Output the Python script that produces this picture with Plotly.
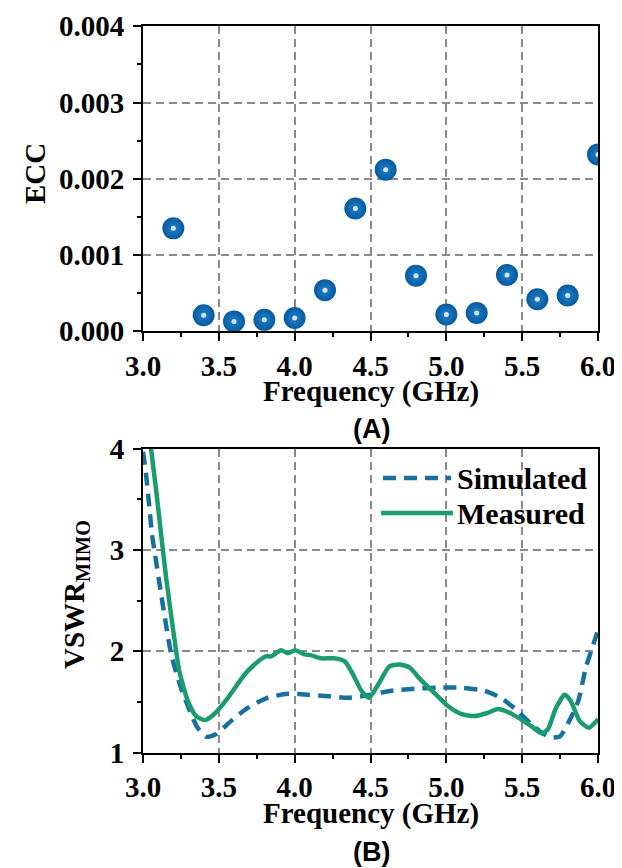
import plotly.graph_objects as go

# ---------------- data ----------------
ecc_freq = [3.2, 3.4, 3.6, 3.8, 4.0, 4.2, 4.4, 4.6, 4.8, 5.0, 5.2, 5.4, 5.6, 5.8, 6.0]
ecc_vals = [0.00135, 0.00021, 0.00013, 0.00015, 0.000175, 0.00054, 0.00161, 0.00212,
            0.00073, 0.00022, 0.00024, 0.00074, 0.00042, 0.00047, 0.00232]

sim_freq = [3.0, 3.02, 3.04, 3.06, 3.08, 3.12, 3.186, 3.25, 3.317, 3.36, 3.42, 3.48, 3.58,
            3.69, 3.82, 3.955, 4.087, 4.22, 4.35, 4.5, 4.636, 4.79, 4.94, 5.1, 5.25, 5.36,
            5.47, 5.56, 5.625, 5.69, 5.75, 5.81, 5.87, 5.92, 5.97, 6.0]
sim_vswr = [3.97, 3.75, 3.45, 3.15, 2.95, 2.56, 1.97, 1.64, 1.38, 1.245, 1.155, 1.18, 1.31,
            1.44, 1.54, 1.58, 1.57, 1.556, 1.54, 1.57, 1.61, 1.63, 1.64, 1.64, 1.61, 1.54,
            1.41, 1.28, 1.2, 1.15, 1.16, 1.31, 1.51, 1.84, 2.07, 2.21]

meas_freq = [3.04, 3.053, 3.09, 3.115, 3.153, 3.197, 3.24, 3.296, 3.35, 3.41, 3.47, 3.56,
             3.67, 3.735, 3.81, 3.845, 3.91, 3.955, 4.003, 4.065, 4.11, 4.175, 4.26, 4.33,
             4.385, 4.44, 4.49, 4.55, 4.625, 4.69, 4.757, 4.83, 4.92, 5.01, 5.1, 5.185,
             5.27, 5.34, 5.405, 5.49, 5.56, 5.63, 5.67, 5.72, 5.78, 5.82, 5.88, 5.94, 5.99, 6.0]
meas_vswr = [4.16, 4.0, 3.55, 3.215, 2.72, 2.23, 1.80, 1.51, 1.36, 1.32, 1.38, 1.54,
             1.77, 1.87, 1.95, 1.95, 2.01, 1.98, 2.01, 1.97, 1.96, 1.93, 1.93, 1.90,
             1.77, 1.61, 1.54, 1.67, 1.85, 1.87, 1.84, 1.72, 1.59, 1.46, 1.38, 1.36,
             1.39, 1.43, 1.40, 1.33, 1.26, 1.19, 1.23, 1.43, 1.57, 1.51, 1.31, 1.245, 1.31, 1.33]

x_ticks = [3.0, 3.5, 4.0, 4.5, 5.0, 5.5, 6.0]
ecc_ticks = [0.000, 0.001, 0.002, 0.003, 0.004]
vswr_ticks = [1, 2, 3, 4]

legend_names = ["Simulated", "Measured"]

# ---------------- style ----------------
W, H = 622, 868
SERIF = "Liberation Serif"
SANS = "Liberation Sans"
SIM_C = "#17709f"
MEAS_C = "#1a9c6e"
GRID_C = "#8a8a8a"


def px(p):
    return p / W


def py(p):
    return 1 - p / H


fig = go.Figure()

fig.add_trace(go.Scatter(
    x=ecc_freq, y=ecc_vals, mode="markers", xaxis="x", yaxis="y",
    marker=dict(size=22, color="#075a9e", line=dict(width=0),
                gradient=dict(type="radial", color="#1f82cc")),
    showlegend=False, hoverinfo="skip"))
fig.add_trace(go.Scatter(
    x=ecc_freq, y=ecc_vals, mode="markers", xaxis="x", yaxis="y",
    marker=dict(size=5, color="white", opacity=0.8, line=dict(width=0)),
    showlegend=False, hoverinfo="skip"))

fig.add_trace(go.Scatter(
    x=sim_freq, y=sim_vswr, mode="lines", xaxis="x2", yaxis="y2",
    line=dict(color=SIM_C, width=4.5, dash="13px,8px", shape="spline", smoothing=0.6),
    name=legend_names[0], showlegend=False))
fig.add_trace(go.Scatter(
    x=meas_freq, y=meas_vswr, mode="lines", xaxis="x2", yaxis="y2",
    line=dict(color=MEAS_C, width=4.5, shape="spline", smoothing=0.6),
    name=legend_names[1], showlegend=False))

tickfont = dict(family=SERIF, size=29, color="black", weight="bold")

xcommon = dict(
    range=[3.0, 6.0], tickvals=x_ticks, tickformat=".1f", automargin=False,
    showline=True, linecolor="black", linewidth=2, mirror=True,
    ticks="outside", ticklen=8, tickwidth=2, tickcolor="black",
    minor=dict(dtick=0.25, tick0=3.0, ticks="outside", ticklen=4, tickwidth=2,
               tickcolor="black", showgrid=False),
    showgrid=True, gridcolor=GRID_C, gridwidth=1.5, griddash="8px,5px",
    zeroline=False, tickfont=tickfont, domain=[px(135), px(590)],
)
ycommon = dict(
    automargin=False, ticklabelstandoff=3,
    showline=True, linecolor="black", linewidth=2, mirror=True,
    ticks="outside", ticklen=8, tickwidth=2, tickcolor="black",
    showgrid=True, gridcolor=GRID_C, gridwidth=1.5, griddash="8px,5px",
    zeroline=False, tickfont=tickfont,
)

fig.update_layout(
    width=W, height=H, margin=dict(l=0, r=0, t=0, b=0, autoexpand=False),
    paper_bgcolor="white", plot_bgcolor="white",
    xaxis=dict(**xcommon, anchor="y"),
    yaxis=dict(**ycommon, anchor="x", range=[0, 0.004], tickvals=ecc_ticks, tickformat=".3f",
               minor=dict(dtick=0.0005, tick0=0, ticks="outside", ticklen=4, tickwidth=2,
                          tickcolor="black", showgrid=False),
               domain=[py(323.3), py(18.3)]),
    xaxis2=dict(**xcommon, anchor="y2"),
    yaxis2=dict(**ycommon, anchor="x2", range=[1, 4], tickvals=vswr_ticks, tickformat="d",
                minor=dict(dtick=0.5, tick0=1, ticks="outside", ticklen=4, tickwidth=2,
                           tickcolor="black", showgrid=False),
                domain=[py(744.5), py(440.8)]),
    showlegend=False,
)

title_font = dict(family=SERIF, size=29, color="black")
ann = []
ann.append(dict(text="<b>ECC</b>", x=px(27), y=py(166), textangle=-90, font=title_font))
ann.append(dict(text="<b>VSWR<sub>MIMO</sub></b>", x=px(68), y=py(587), textangle=-90,
                font=title_font))
ann.append(dict(text="<b>Frequency (GHz)</b>", x=px(362.5), y=py(383), font=title_font))
ann.append(dict(text="<b>Frequency (GHz)</b>", x=px(362.5), y=py(805), font=title_font))
ann.append(dict(text="<b>(A)</b>", x=px(363), y=py(421), font=dict(family=SANS, size=27, color="black")))
ann.append(dict(text="<b>(B)</b>", x=px(363), y=py(844), font=dict(family=SANS, size=27, color="black")))
# legend labels
leg_font = dict(family=SERIF, size=30, color="black")
ann.append(dict(text="<b>%s</b>" % legend_names[0], x=px(447), y=py(470), xanchor="left",
                font=leg_font))
ann.append(dict(text="<b>%s</b>" % legend_names[1], x=px(447), y=py(505), xanchor="left",
                font=leg_font))
for a in ann:
    a.setdefault("xanchor", "center")
    a.update(xref="paper", yref="paper", yanchor="middle", showarrow=False)
fig.update_layout(annotations=ann)

fig.update_layout(shapes=[
    dict(type="line", xref="paper", yref="paper", x0=px(375), x1=px(443), y0=py(470), y1=py(470),
         line=dict(color=SIM_C, width=4.5, dash="13px,8px")),
    dict(type="line", xref="paper", yref="paper", x0=px(373), x1=px(445), y0=py(505), y1=py(505),
         line=dict(color=MEAS_C, width=4.5)),
])

fig.write_html("out.html")
